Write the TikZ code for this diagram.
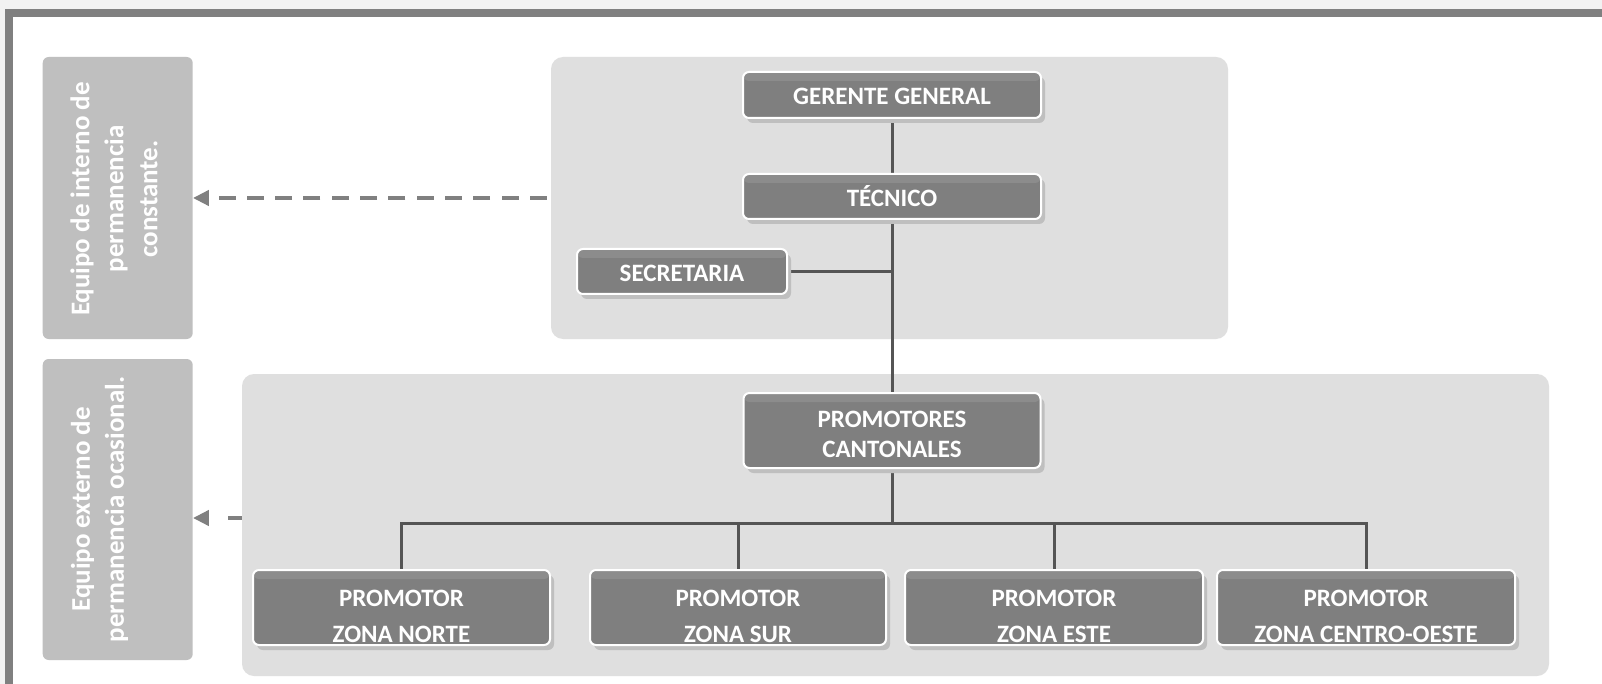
\documentclass[tikz,border=0pt]{standalone}
\usepackage{fontspec}
\setmainfont{Carlito}
\usetikzlibrary{arrows.meta,shadows}
\definecolor{framebg}{HTML}{F2F2F2}
\definecolor{framegray}{HTML}{808080}
\definecolor{grpgray}{HTML}{DFDFDF}
\definecolor{lblgray}{HTML}{BFBFBF}
\definecolor{boxgray}{HTML}{7F7F7F}
\definecolor{bandgray}{HTML}{8C8C8C}
\definecolor{shadowgray}{HTML}{BFBFBF}
\definecolor{linegray}{HTML}{555555}
\definecolor{arrowgray}{HTML}{808080}
\pgfdeclarelayer{bglayer}
\pgfdeclarelayer{connlayer}
\pgfsetlayers{bglayer,connlayer,main}
\begin{document}
\begin{tikzpicture}[x=1pt,y=-1pt,
  grp/.style={rectangle, fill=grpgray, rounded corners=12pt, inner sep=0pt, draw=none},
  lbl/.style={rectangle, fill=lblgray, rounded corners=6pt, inner sep=0pt, draw=none},
  orgbox/.style={rectangle, rounded corners=6pt, fill=boxgray, draw=white, line width=2pt, inner sep=0pt,
    general shadow={fill=shadowgray, shadow xshift=4pt, shadow yshift=-5pt},
    path picture={\fill[bandgray] (path picture bounding box.north west) rectangle ([yshift=-9pt]path picture bounding box.north east);}},
  btxt/.style={text=white, font=\fontsize{25}{30}\selectfont\bfseries, inner sep=0pt, anchor=base},
  ltxt/.style={text=white, font=\fontsize{27}{34}\selectfont\bfseries, align=center, rotate=90, inner sep=0pt},
  conn/.style={draw=linegray, line width=3pt},
  darrow/.style={draw=arrowgray, line width=4.5pt, -{Triangle[length=16pt,width=15pt]}},
]
\useasboundingbox (0,0) rectangle (1602,684);

\begin{pgfonlayer}{bglayer}
\fill[framebg] (0,0) rectangle (1602,684);
\fill[framegray] (5,9) rectangle (1602,684);
\fill[white] (13,17) rectangle (1602,684);
\node[grp, minimum width=677pt, minimum height=282pt] (tg) at (889.5,198) {};
\node[grp, minimum width=1307pt, minimum height=302pt] (bg) at (895.5,525) {};
\node[lbl, minimum width=150pt, minimum height=282pt] (lb1) at (117.7,198) {};
\node[lbl, minimum width=150pt, minimum height=301pt] (lb2) at (117.7,509.5) {};
\end{pgfonlayer}

% label texts
\node[ltxt] (lt1) at (114,199) {Equipo de interno de\\permanencia\\constante.};
\node[ltxt] (lt2) at (99.5,509.5) {Equipo externo de\\permanencia ocasional.};

% boxes
\node[orgbox, minimum width=298pt, minimum height=46pt] (gg) at (892,95) {};
\node[orgbox, minimum width=298pt, minimum height=45pt] (tec) at (892,196.5) {};
\node[orgbox, minimum width=210pt, minimum height=45pt] (sec) at (682,271.5) {};
\node[orgbox, minimum width=297pt, minimum height=75pt] (pc) at (892,430.5) {};
\node[orgbox, minimum width=297pt, minimum height=75pt] (z1) at (401.5,607.5) {};
\node[orgbox, minimum width=296pt, minimum height=75pt] (z2) at (738,607.5) {};
\node[orgbox, minimum width=298pt, minimum height=75pt] (z3) at (1054,607.5) {};
\node[orgbox, minimum width=298pt, minimum height=75pt] (z4) at (1366,607.5) {};

% box texts
\node[btxt] (ggt) at (892,105) {GERENTE GENERAL};
\node[btxt] (tect) at (892,207) {TÉCNICO};
\node[btxt] (sect) at (682,282) {SECRETARIA};
\node[btxt] (pcta) at (892,427) {PROMOTORES};
\node[btxt] (pctb) at (892,457) {CANTONALES};
\node[btxt] (z1a) at (401.5,606.5) {PROMOTOR};
\node[btxt] (z1b) at (401.5,642) {ZONA NORTE};
\node[btxt] (z2a) at (738,606.5) {PROMOTOR};
\node[btxt] (z2b) at (738,642) {ZONA SUR};
\node[btxt] (z3a) at (1054,606.5) {PROMOTOR};
\node[btxt] (z3b) at (1054,642) {ZONA ESTE};
\node[btxt] (z4a) at (1366,606.5) {PROMOTOR};
\node[btxt] (z4b) at (1366,642) {ZONA CENTRO-OESTE};

% connectors
\begin{pgfonlayer}{connlayer}
\coordinate (bus) at (892,523);
\draw[conn] (gg.south) -- (tec.north);
\draw[conn] (tec.south) -- (pc.north);
\draw[conn] (sec.east) -- (sec.east -| tec.south);
\draw[conn] (pc.south) -- (pc.south |- bus);
\draw[conn] (z1.north) -- (z1.north |- bus) -- (z4.north |- bus) -- (z4.north);
\draw[conn] (z2.north) -- (z2.north |- bus);
\draw[conn] (z3.north) -- (z3.north |- bus);

\coordinate (ta) at ([xshift=-4pt]tg.west);
\draw[darrow, dash pattern=on 17pt off 11.3pt] (ta) -- (ta -| lb1.east);
\coordinate (ba) at ([yshift=7pt]bg.west);
\draw[darrow, dash pattern=on 14pt off 40pt] (ba) -- (ba -| lb2.east);
\end{pgfonlayer}
\end{tikzpicture}
\end{document}
